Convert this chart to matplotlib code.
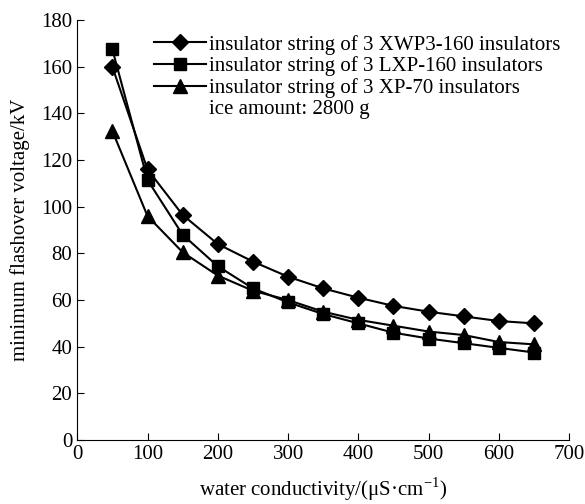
import numpy as np
import matplotlib
matplotlib.use("Agg")
import matplotlib.pyplot as plt
from matplotlib.lines import Line2D

plt.rcParams['font.family'] = ['Liberation Serif', 'DejaVu Serif']
plt.rcParams['mathtext.fontset'] = 'custom'
plt.rcParams['mathtext.rm'] = 'Liberation Serif'

conductivity = [50, 100, 150, 200, 250, 300, 350, 400, 450, 500, 550, 600, 650]
xwp3_160 = [160, 116, 96.5, 84, 76.5, 70, 65, 61, 57.5, 55, 53, 51, 50]
lxp_160 = [167.5, 111.5, 88, 74.5, 65, 59, 54, 50, 46, 43.5, 41.5, 39.5, 37.5]
xp_70 = [132.5, 96, 80.5, 70.5, 64, 60, 55, 51.5, 49, 46.5, 45, 42, 41]

labels = ["insulator string of 3 XWP3-160 insulators",
          "insulator string of 3 LXP-160 insulators",
          "insulator string of 3 XP-70 insulators"]

fig = plt.figure(figsize=(5.85, 5.04), dpi=100)
ax = fig.add_axes([0.132, 0.127, 0.841, 0.833])

ax.plot(conductivity, xwp3_160, 'k-', marker='D', markersize=8, lw=1.5, label=labels[0])
ax.plot(conductivity, lxp_160, 'k-', marker='s', markersize=8.5, lw=1.5, label=labels[1])
ax.plot(conductivity, xp_70, 'k-', marker='^', markersize=10, lw=1.5, label=labels[2])

extra = Line2D([], [], color='none', label="ice amount: 2800 g")
handles, _ = ax.get_legend_handles_labels()
ax.legend(handles=handles + [extra], loc='upper right', frameon=False, fontsize=15,
          handlelength=2.5, handletextpad=0.15, labelspacing=0.08,
          bbox_to_anchor=(1.0, 0.985), borderaxespad=0.2, borderpad=0.2)

ax.set_xlim(0, 700)
ax.set_ylim(0, 180)
ax.set_xticks(range(0, 701, 100))
ax.set_yticks(range(0, 181, 20))
ax.spines['top'].set_visible(False)
ax.spines['right'].set_visible(False)
ax.tick_params(direction='in', labelsize=15, length=5)
ax.set_xlabel("water conductivity/(\u03bcS\u00b7cm$^{-1}$)", fontsize=15, labelpad=8)
ax.set_ylabel("minimum flashover voltage/kV", fontsize=15, labelpad=8)

fig.savefig("out.png", dpi=100)
